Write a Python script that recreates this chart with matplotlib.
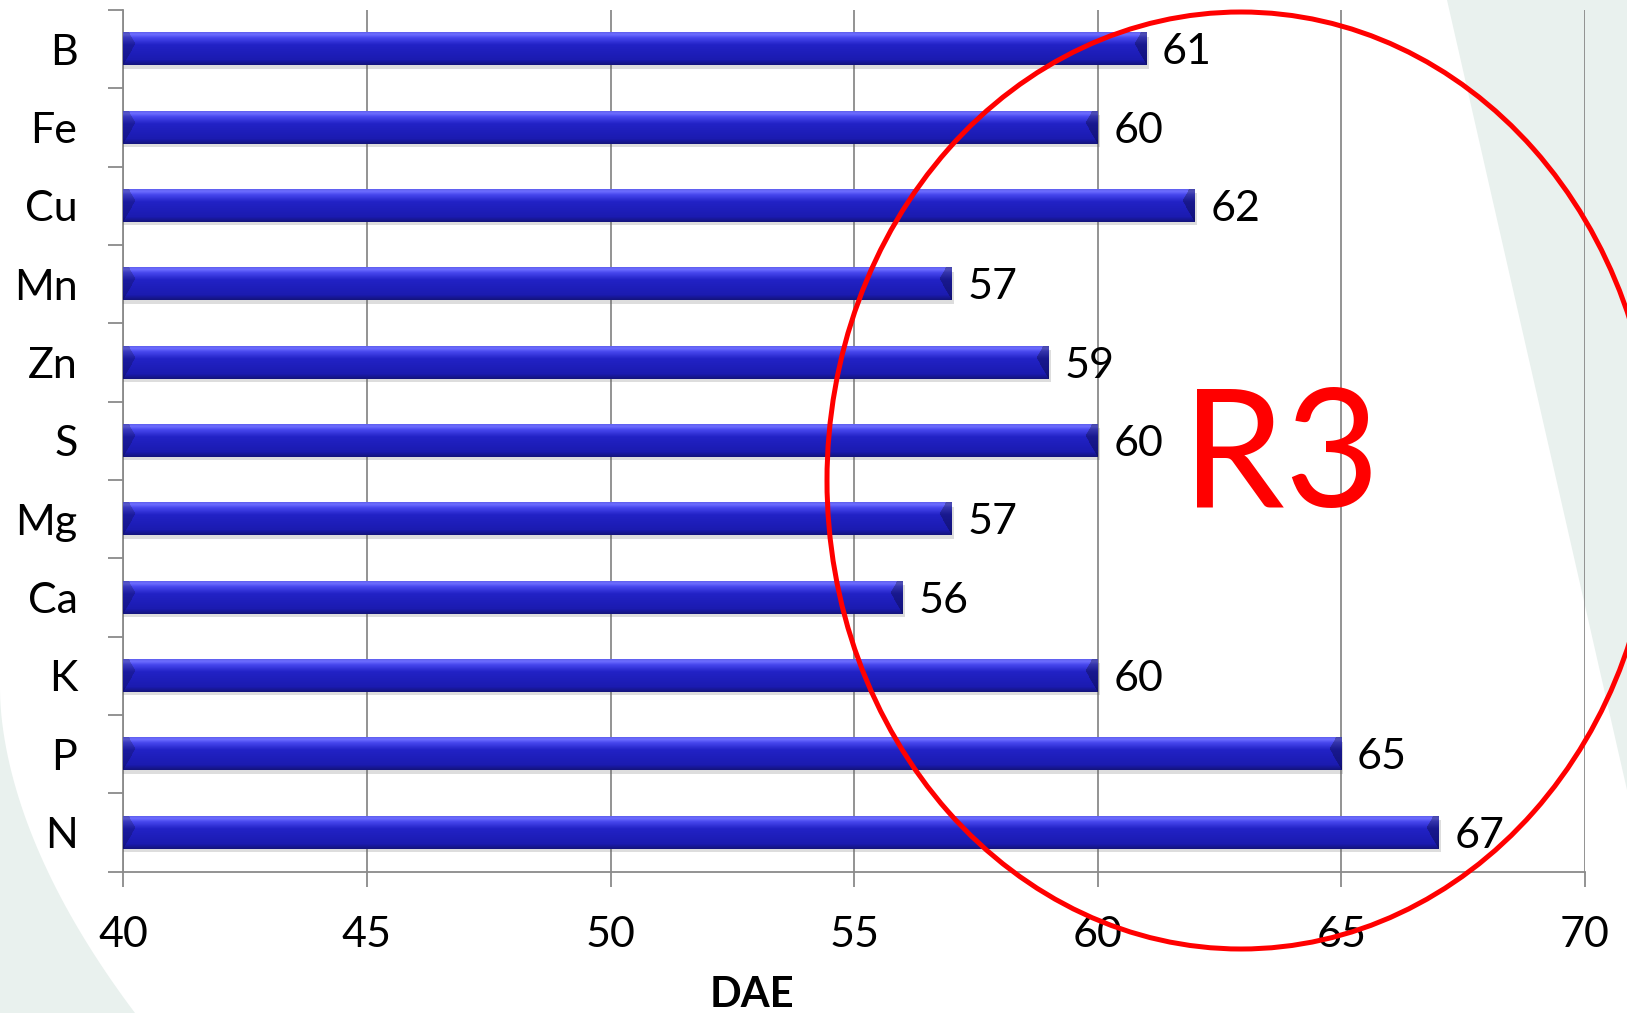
import numpy as np
import matplotlib
matplotlib.use("Agg")
import matplotlib.pyplot as plt
from matplotlib.patches import Ellipse, Polygon
from matplotlib.ticker import FixedLocator
import matplotlib.patheffects as pe
from matplotlib.colors import to_rgb

# Nutrient elements, listed bottom to top, and days after emergence
elements = ["N", "P", "K", "Ca", "Mg", "S", "Zn", "Mn", "Cu", "Fe", "B"]
dae_values = [67, 65, 60, 56, 57, 60, 59, 57, 62, 60, 61]
x_ticks = [40, 45, 50, 55, 60, 65, 70]
x_label = "DAE"
callout = "R3"

plt.rcParams["font.family"] = ["Lato", "DejaVu Sans"]

W_PX, H_PX, DPI = 1627, 1013, 100
fig = plt.figure(figsize=(W_PX / DPI, H_PX / DPI), dpi=DPI, facecolor="white")

# soft slide-background shapes
bg = "#e9f1ee"
fig.add_artist(Polygon([(1447 / W_PX, 1.0), (1.0, 1.0), (1.0, 1 - 790 / H_PX)],
                       closed=True, transform=fig.transFigure, facecolor=bg,
                       edgecolor="none", zorder=-5))
arc_t = np.linspace(0, 1, 40)
arc_x = 135 * arc_t ** 1.8
arc_y = 690 + (1013 - 690) * arc_t
pts = [(xx / W_PX, 1 - yy / H_PX) for xx, yy in zip(arc_x, arc_y)] + [(0, 0)]
fig.add_artist(Polygon(pts, closed=True, transform=fig.transFigure, facecolor=bg,
                       edgecolor="none", zorder=-5))

left, right = 123.3 / W_PX, 1585 / W_PX
bottom, top = 1 - 871.7 / H_PX, 1 - 10 / H_PX
ax = fig.add_axes([left, bottom, right - left, top - bottom])
ax.patch.set_visible(False)

grid_c = "#8a8a8a"
y = np.arange(len(elements))
bar_h = 0.41
xmin, xmax = x_ticks[0], x_ticks[-1]
ax.set_xlim(xmin, xmax)
ax.set_ylim(-0.5, len(elements) - 0.5)

bars = ax.barh(y, dae_values, height=bar_h, color="#1d1db8", zorder=3)
for b in bars:
    b.set_path_effects([pe.SimplePatchShadow(offset=(1.5, -2.5), shadow_rgbFace="#666666",
                                             alpha=0.22), pe.Normal()])

# glossy bevelled fill for every bar (row 0 = top edge)
stops_t = [0.0, 0.06, 0.16, 0.38, 0.85, 1.0]
stops_c = [to_rgb(c) for c in ["#6060f0", "#6e6eff", "#4848ee", "#2222c6", "#1b1bb0", "#14147e"]]
px_per_unit = (right - left) * W_PX / (xmax - xmin)
for yi, v in zip(y, dae_values):
    W = max(int(round((v - xmin) * px_per_unit)), 2)
    H = 40
    t = np.linspace(0, 1, H)
    col = np.stack([np.interp(t, stops_t, [c[k] for c in stops_c]) for k in range(3)], axis=1)
    img = np.repeat(col[:, None, :], W, axis=1)
    xs = np.arange(W)[None, :]
    tt = t[:, None]
    bev = 12 * (1 - np.abs(tt - 0.35) / 0.65)
    lmask = xs < bev
    rmask = (W - 1 - xs) < bev
    img[lmask] *= 0.8
    img[rmask] *= 0.72
    ax.imshow(img, extent=(xmin, v, yi - bar_h / 2, yi + bar_h / 2), origin="upper",
              aspect="auto", interpolation="bilinear", zorder=4)
    ax.text(v + 0.32, yi - 0.04, f"{v}", ha="left", va="center",
            fontsize=31, color="black", zorder=5)

ax.set_xlim(xmin, xmax)
ax.set_ylim(-0.5, len(elements) - 0.5)

# axes styling
for s in ["top", "right"]:
    ax.spines[s].set_visible(False)
for s in ["left", "bottom"]:
    ax.spines[s].set_color(grid_c)
    ax.spines[s].set_linewidth(1.3)
ax.set_xticks(x_ticks)
ax.set_xticklabels([str(t) for t in x_ticks], fontsize=31)
ax.tick_params(axis="x", length=11, width=1.3, color=grid_c, pad=21)
ax.xaxis.grid(True, color=grid_c, linewidth=1.3, zorder=1)
ax.set_axisbelow(True)

ax.set_yticks(y)
ax.set_yticklabels(elements, fontsize=31)
ax.tick_params(axis="y", which="major", length=0, pad=33)
ax.yaxis.set_minor_locator(FixedLocator(np.arange(-0.5, len(elements), 1.0)))
ax.tick_params(axis="y", which="minor", length=11, width=1.3, color=grid_c)

fig.text(751.5 / W_PX, 1 - 1007 / H_PX, x_label, fontsize=30, fontweight="bold",
         ha="center", va="baseline")

# red callout
fig.add_artist(Ellipse((1241 / W_PX, 1 - 480.5 / H_PX), 828 / W_PX, 937 / H_PX,
                       transform=fig.transFigure, facecolor="none",
                       edgecolor="#ff0000", linewidth=3.6, zorder=10))
fig.text(1281 / W_PX, 1 - 507 / H_PX, callout, fontsize=118, color="#ff0000",
         ha="center", va="baseline", zorder=11)

fig.savefig("out.png", dpi=DPI, facecolor="white")
